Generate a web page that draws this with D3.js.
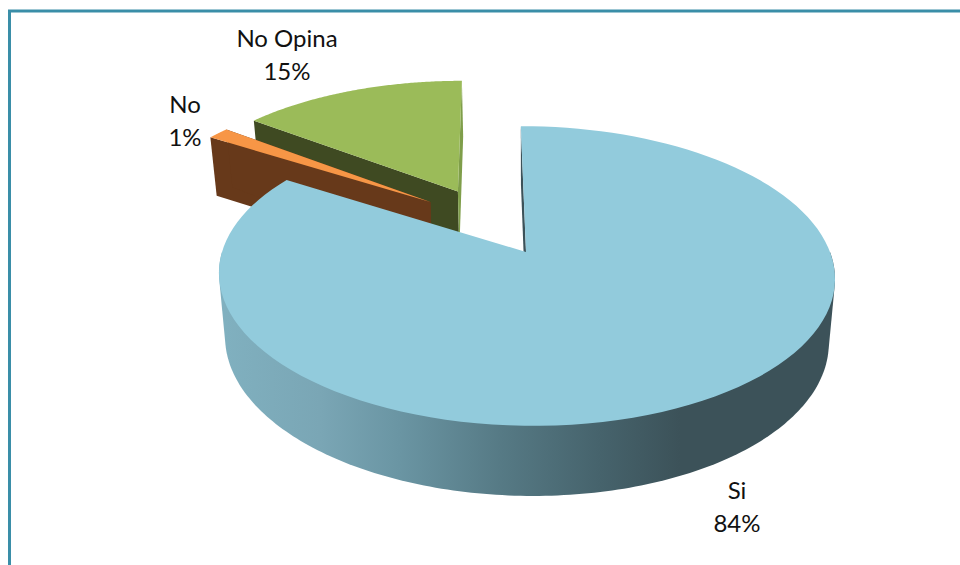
<!DOCTYPE html>
<html>
<head>
<meta charset="utf-8">
<script src="https://cdn.jsdelivr.net/npm/d3@7"></script>
<style>
  html, body { margin: 0; padding: 0; background: #fff; overflow: hidden; }
  text { font-family: Lato, "Open Sans", sans-serif; font-size: 24px; fill: #111; text-anchor: middle; }
</style>
</head>
<body>
<script>
var categories = ['Si', 'No', 'No Opina'];
var values = [84, 1.4, 14.6];
var labels = ['84%', '1%', '15%'];
var topColors = ['#92cbdc', '#f79646', '#9bbb59'];
var sideColors = ['#3c5259', '#67391a', '#3f4a22'];
var edgeColors = ['#3c5259', '#67391a', '#7f9e4a'];

var width = 960,
    height = 565;

// the disc lies tilted: x0,y0 is the apex of the big slice
var x0 = 526, y0 = 252,
    rx = 304, ry = 146,
    lean = -6,
    persp = 0.16,
    explode = 0.25,
    depth = 63, sx = 0.98, sy = 1.041;

var svg = d3.select('body').append('svg')
    .attr('width', width)
    .attr('height', height)
    .style('display', 'block');

// frame, only top and left are inside the picture
svg.append('path')
    .attr('d', 'M9.5,' + (height + 5) + 'V11H' + (width + 5))
    .attr('fill', 'none')
    .attr('stroke', '#3a8ea8')
    .attr('stroke-width', 3);

var wallStops = [[225, '#80b0bf'], [320, '#7aa6b5'], [400, '#6a95a3'], [500, '#567a85'], [600, '#46636c'], [680, '#3c5259'], [835, '#3c5259']];
var xPct = d3.scaleLinear().domain([225, 835]).range([0, 100]);

var grad = svg.append('defs').append('linearGradient')
    .attr('id', 'wall')
    .attr('gradientUnits', 'userSpaceOnUse')
    .attr('x1', 225).attr('x2', 835).attr('y1', 0).attr('y2', 0);
grad.selectAll('stop').data(wallStops).enter().append('stop')
    .attr('offset', function(d) { return xPct(d[0]) + '%'; })
    .attr('stop-color', function(d) { return d[1]; });

var pie = d3.pie().sort(null)(values);
var line = d3.line();

function mid(d) { return (d.startAngle + d.endAngle) / 2; }

// every slice is pulled out from a common centre, measured from the big one
function offset(d) {
  var a = mid(d), b = mid(pie[0]);
  return [explode * (Math.sin(a) - Math.sin(b)), explode * (Math.cos(a) - Math.cos(b))];
}

function project(u, v, lower) {
  var w = 1 + persp * v,
      x = (rx * u + lean * v) / w,
      y = -ry * v / w;
  if (lower) return [x0 + sx * x, y0 + depth + sy * y];
  return [x0 + x, y0 + y];
}

function rimPoint(d, a, lower) {
  var o = offset(d);
  return project(o[0] + Math.sin(a), o[1] + Math.cos(a), lower);
}

function apex(d, lower) {
  var o = offset(d);
  return project(o[0], o[1], lower);
}

function rim(d, lower) {
  return d3.range(0, 121).map(function(i) {
    return rimPoint(d, d.startAngle + (d.endAngle - d.startAngle) * i / 120, lower);
  });
}

// outer wall of the big slice: hull of the front half of both rims, the top covers the rest
function frontWall() {
  var pts = [];
  d3.range(90, 271, 1).forEach(function(deg) {
    var a = deg * Math.PI / 180;
    pts.push(rimPoint(pie[0], a, false), rimPoint(pie[0], a, true));
  });
  return d3.polygonHull(pts);
}

function radialWall(d, a) {
  return [apex(d, false), rimPoint(d, a, false), rimPoint(d, a, true), apex(d, true)];
}

function shape(pts, fill) {
  svg.append('path')
      .attr('d', line(pts) + 'Z')
      .attr('fill', fill);
}

// back to front: No Opina, No, Si
[2, 1, 0].forEach(function(i) {
  var d = pie[i];
  if (i === 0) {
    shape(frontWall(), 'url(#wall)');
    shape(radialWall(d, d.startAngle), edgeColors[0]);
  } else {
    shape(radialWall(d, d.startAngle), sideColors[i]);
    shape(radialWall(d, d.endAngle), edgeColors[i]);
  }
  shape([apex(d, false)].concat(rim(d, false)), topColors[i]);
});

var labelX = [737, 185, 287],
    labelY = [499, 113, 47];

categories.forEach(function(c, i) {
  var t = svg.append('text').attr('x', labelX[i]).attr('y', labelY[i]);
  t.append('tspan').attr('x', labelX[i]).text(c);
  t.append('tspan').attr('x', labelX[i]).attr('dy', 33).text(labels[i]);
});
</script>
</body>
</html>
